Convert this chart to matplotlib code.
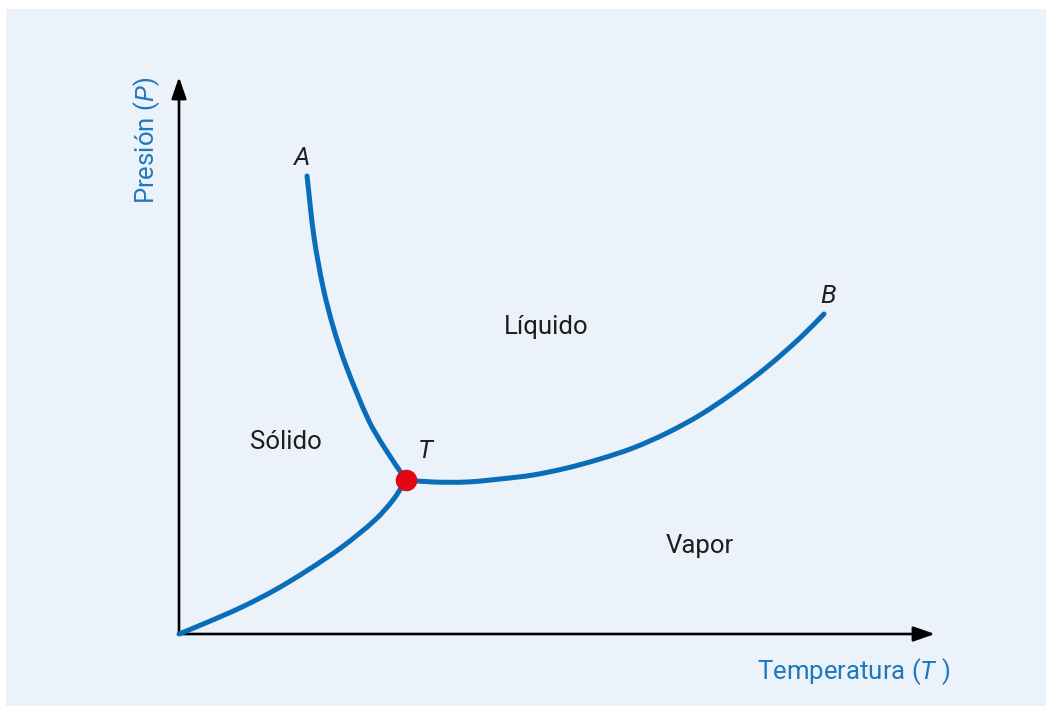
import matplotlib
matplotlib.use("Agg")
import matplotlib.pyplot as plt
import numpy as np
from matplotlib.patches import Rectangle, PathPatch
from matplotlib.path import Path

plt.rcParams['font.family'] = ['Roboto', 'DejaVu Sans']
plt.rcParams['mathtext.fontset'] = 'custom'
plt.rcParams['mathtext.rm'] = 'Roboto'
plt.rcParams['mathtext.it'] = 'Roboto:italic'

# phase boundaries (temperature, pressure), arbitrary units
fusion_T = [1.28, 1.35, 1.44, 1.545, 1.675, 1.895, 2.05, 2.27]
fusion_P = [4.58, 3.97, 3.47, 3.06, 2.67, 2.14, 1.87, 1.54]

sublim_T = [0.00, 0.29, 0.63, 0.96, 1.29, 1.63, 1.96, 2.14, 2.27]
sublim_P = [0.00, 0.12, 0.27, 0.44, 0.64, 0.87, 1.14, 1.34, 1.54]

vapor_T = [2.27, 2.54, 2.88, 3.21, 3.54, 3.88, 4.21, 4.54, 4.88, 5.21, 5.54, 5.88, 6.21, 6.45]
vapor_P = [1.54, 1.52, 1.52, 1.55, 1.59, 1.66, 1.75, 1.86, 2.01, 2.19, 2.41, 2.67, 2.96, 3.20]

triple_T, triple_P = 2.27, 1.54

blue = '#0A6DB7'
label_blue = '#1F78BE'
ink = '#1e1e1e'


def smooth_path(xs, ys):
    # cubic Bezier through every point, tangents from chord-length spacing
    pts = np.column_stack([xs, ys])
    t = np.concatenate([[0], np.cumsum(np.hypot(*np.diff(pts, axis=0).T))])
    m = np.empty_like(pts)
    m[0] = (pts[1] - pts[0]) / (t[1] - t[0])
    m[-1] = (pts[-1] - pts[-2]) / (t[-1] - t[-2])
    m[1:-1] = (pts[2:] - pts[:-2]) / (t[2:] - t[:-2])[:, None]
    verts = [pts[0]]
    codes = [Path.MOVETO]
    for i in range(len(pts) - 1):
        h = t[i + 1] - t[i]
        verts += [pts[i] + m[i] * h / 3, pts[i + 1] - m[i + 1] * h / 3, pts[i + 1]]
        codes += [Path.CURVE4] * 3
    return Path(verts, codes)


fig = plt.figure(figsize=(10.52, 7.13), dpi=100)
fig.patch.set_facecolor('white')

ax = fig.add_axes([0, 0, 1, 1])
ax.set_xlim(-1.79, 8.73)
ax.set_ylim(-0.79, 6.34)
ax.axis('off')

# light panel behind the diagram
ax.add_patch(Rectangle((6 / 1052, 1 - 706 / 713), 1040 / 1052, 697 / 713,
                       transform=ax.transAxes, facecolor='#EBF2FA',
                       edgecolor='none', zorder=0))

# axes with arrow heads
arrow = dict(arrowstyle='-|>,head_length=1.3,head_width=0.45', color='black',
             lw=1.9, shrinkA=0, shrinkB=0)
ax.annotate('', xy=(7.56, 0), xytext=(0, 0), arrowprops=arrow)
ax.annotate('', xy=(0, 5.57), xytext=(0, 0), arrowprops=arrow)

for t, p in [(fusion_T, fusion_P), (sublim_T, sublim_P), (vapor_T, vapor_P)]:
    ax.add_patch(PathPatch(smooth_path(t, p), facecolor='none', edgecolor=blue,
                           lw=3.6, capstyle='round', zorder=3))

ax.plot(triple_T, triple_P, 'o', color='#E30613', markersize=14.5, zorder=4)

fs = 18.5
ax.text(1.07, 1.92, 'Sólido', fontsize=fs, ha='center', va='center', color=ink)
ax.text(3.67, 3.07, 'Líquido', fontsize=fs, ha='center', va='center', color=ink)
ax.text(5.21, 0.88, 'Vapor', fontsize=fs, ha='center', va='center', color=ink)
ax.text(1.22, 4.76, 'A', fontsize=fs, style='italic', ha='center', va='center', color=ink)
ax.text(6.49, 3.38, 'B', fontsize=fs, style='italic', ha='center', va='center', color=ink)
ax.text(2.46, 1.83, 'T', fontsize=fs, style='italic', ha='center', va='center', color=ink)

ax.text(-0.32, 4.94, r'Presión ($P$)', fontsize=fs, rotation=90, ha='center', va='center',
        color=label_blue)
ax.text(6.75, -0.38, r'Temperatura ($T$ )', fontsize=fs, ha='center', va='center',
        color=label_blue)

fig.savefig('out.png', dpi=100, facecolor=fig.get_facecolor())
